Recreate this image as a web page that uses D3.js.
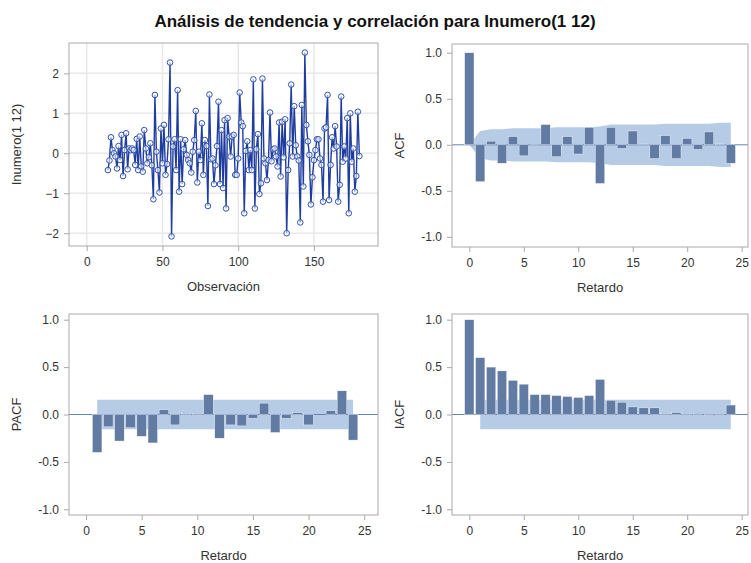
<!DOCTYPE html>
<html>
<head>
<meta charset="utf-8">
<script src="https://cdn.jsdelivr.net/npm/d3@7"></script>
<style>
  body { margin: 0; background: #fff; }
  text { font-family: "Liberation Sans", Arial, sans-serif; }
</style>
</head>
<body>
<div id="chart"></div>
<script>
// datos
const titulo = "Análisis de tendencia y correlación para Inumero(1 12)";
const etiquetaSerie = "Inumero(1 12)";
const obsInicio = 14;
const serie = [
  -0.42, -0.18, 0.40, 0.08, 0.00, -0.08, -0.38, 0.18, -0.17, 0.46,
  -0.57, 0.08, 0.50, -0.40, 0.12, 0.08, 0.12, 0.08, -0.29, 0.36,
  -0.42, 0.42, -0.33, -0.46, 0.58, 0.12, -0.25, -0.10, 0.25, -0.30,
  -1.15, 1.46, 0.04, -0.42, -0.98, 0.62, -0.25, 0.71, -0.54, -0.27,
  0.35, 2.27, -2.08, 0.17, 0.35, -0.42, 1.58, -0.96, 0.35, -0.77,
  0.10, 0.33, -0.04, -0.17, -0.25, -0.48, 0.04, 0.33, 1.06, -0.73,
  0.04, -0.17, 0.75, -0.54, 0.33, 0.18, -1.32, 1.47, -0.15, -0.13,
  -0.77, -0.30, 0.18, 1.29, -0.77, 0.58, -0.87, 0.83, -1.38, 0.88,
  0.42, -0.08, 0.42, 0.46, -0.54, -0.54, -0.13, 1.52, 0.77, 0.68,
  -1.50, 0.06, 0.30, -0.42, 0.08, -0.42, 1.85, -1.38, 0.10, 0.48,
  -1.02, -0.75, 1.87, -0.13, -0.25, -0.67, -0.17, 1.02, -0.20, 0.10,
  0.12, -0.08, -0.33, 0.77, -0.58, 0.79, -0.10, 0.85, -2.00, -0.42,
  0.25, 1.72, -0.08, 1.18, 0.20, -0.08, -0.18, -1.73, 1.21, -0.83,
  2.52, 0.71, 0.30, -0.04, -1.28, -0.60, -0.17, 0.08, 0.35, 0.35,
  -0.13, -0.29, -1.21, 0.62, 0.65, 1.46, -1.17, -0.29, 0.40, 0.12,
  0.68, 0.17, -1.21, -0.79, 1.42, -0.21, 0.17, -0.13, 0.88, -1.50,
  1.00, -0.21, 0.12, -0.96, -0.57, 1.04, -0.07
];

const retardos = d3.range(0, 25);
const acf = [1.00, -0.40, 0.04, -0.20, 0.09, -0.12, -0.01, 0.22, -0.13, 0.09,
  -0.10, 0.19, -0.42, 0.19, -0.04, 0.15, 0.01, -0.15, 0.10, -0.15,
  0.07, -0.05, 0.14, 0.01, -0.20];
const acfBanda = [0.00, 0.15, 0.17, 0.17, 0.18, 0.18, 0.18, 0.18, 0.19, 0.19,
  0.19, 0.19, 0.20, 0.22, 0.22, 0.22, 0.22, 0.22, 0.23, 0.23,
  0.23, 0.23, 0.23, 0.24, 0.24];
const retardosP = d3.range(1, 25);
const pacf = [-0.40, -0.13, -0.28, -0.14, -0.23, -0.30, 0.05, -0.11, 0.01, 0.01,
  0.21, -0.25, -0.11, -0.12, -0.04, 0.12, -0.19, -0.04, 0.02, -0.11,
  0.00, 0.04, 0.25, -0.27];
const iacf = [1.00, 0.60, 0.50, 0.46, 0.36, 0.32, 0.21, 0.21, 0.20, 0.19,
  0.18, 0.20, 0.37, 0.15, 0.13, 0.08, 0.07, 0.07, 0.01, 0.02,
  0.01, 0.01, -0.01, 0.01, 0.10];
const bandaPacf = 0.155;
const bandaIacf = 0.155;

const ticksCorr = [-1, -0.5, 0, 0.5, 1];
const ticksRet = [0, 5, 10, 15, 20, 25];
const ticksObs = [0, 50, 100, 150];
const ticksSerie = [-2, -1, 0, 1, 2];

const W = 751, H = 563;
const colorBarra = "#617ba3";
const colorBanda = "#b6cbe6";
const colorMarco = "#a9a9a9";
const colorTexto = "#333";

const svg = d3.select("#chart").append("svg").attr("width", W).attr("height", H);

svg.append("text")
  .attr("x", 375).attr("y", 27)
  .attr("text-anchor", "middle")
  .style("font-size", "17px").style("font-weight", "bold").style("fill", "#111")
  .text(titulo);

// marco + ejes comunes
function panel(box, xDom, yDom, xTicks, yTicks, yFmt, xLabel, yLabel, grid) {
  const x = d3.scaleLinear().domain(xDom).range([box.l, box.r]);
  const y = d3.scaleLinear().domain(yDom).range([box.b, box.t]);
  const g = svg.append("g");

  if (grid) {
    g.selectAll(".gx").data(xTicks).enter().append("line")
      .attr("x1", d => x(d)).attr("x2", d => x(d))
      .attr("y1", box.t).attr("y2", box.b)
      .attr("stroke", "#e8e8e8").attr("stroke-width", 1.5);
    g.selectAll(".gy").data(yTicks).enter().append("line")
      .attr("y1", d => y(d)).attr("y2", d => y(d))
      .attr("x1", box.l).attr("x2", box.r)
      .attr("stroke", "#e8e8e8").attr("stroke-width", 1.5);
  }

  const ax = g.append("g").attr("transform", `translate(0,${box.b})`)
    .call(d3.axisBottom(x).tickValues(xTicks).tickSize(5).tickPadding(6));
  const ay = g.append("g").attr("transform", `translate(${box.l},0)`)
    .call(d3.axisLeft(y).tickValues(yTicks).tickFormat(yFmt).tickSize(5).tickPadding(5));
  [ax, ay].forEach(a => {
    a.select(".domain").remove();
    a.selectAll("line").attr("stroke", colorMarco);
    a.selectAll("text").style("font-size", "12px").style("fill", colorTexto)
      .style("font-family", "'Liberation Sans', Arial, sans-serif");
  });

  g.append("text")
    .attr("x", (box.l + box.r) / 2).attr("y", box.b + 45)
    .attr("text-anchor", "middle")
    .style("font-size", "13px").style("fill", colorTexto)
    .text(xLabel);
  g.append("text")
    .attr("transform", `translate(${box.l - 48},${(box.t + box.b) / 2}) rotate(-90)`)
    .attr("text-anchor", "middle")
    .style("font-size", "13px").style("fill", colorTexto)
    .text(yLabel);

  const plot = svg.append("g");
  // frame drawn last
  const frame = () => svg.append("rect")
    .attr("x", box.l).attr("y", box.t)
    .attr("width", box.r - box.l).attr("height", box.b - box.t)
    .attr("fill", "none").attr("stroke", colorMarco).attr("stroke-width", 1);
  return { x, y, plot, frame };
}

const fmt1 = d3.format(".1f");
const fmtCorr = d => d < 0 ? "-" + fmt1(-d) : fmt1(d);

// 1. serie
{
  const box = { l: 69, r: 378, t: 43, b: 246 };
  const p = panel(box, [-11.7, 192.3], [-2.32, 2.76], ticksObs, ticksSerie, d3.format("d"), "Observación", etiquetaSerie, true);
  const datos = serie.map((v, i) => ({ o: obsInicio + i, v }));
  p.plot.append("path").datum(datos)
    .attr("fill", "none").attr("stroke", "#1f3d9e").attr("stroke-width", 1.4)
    .attr("d", d3.line().x(d => p.x(d.o)).y(d => p.y(d.v)));
  p.plot.selectAll("circle").data(datos).enter().append("circle")
    .attr("cx", d => p.x(d.o)).attr("cy", d => p.y(d.v)).attr("r", 2.8)
    .attr("fill", "#fff").attr("fill-opacity", 0.55)
    .attr("stroke", "#2f52b0").attr("stroke-width", 1);
  p.frame();
}

function barras(p, lags, vals, ancho) {
  const w = p.x(ancho) - p.x(0);
  p.plot.selectAll(".bar").data(vals).enter().append("rect")
    .attr("x", (d, i) => p.x(lags[i]) - w / 2)
    .attr("y", d => p.y(Math.max(0, d)))
    .attr("width", w)
    .attr("height", d => Math.abs(p.y(d) - p.y(0)))
    .attr("fill", colorBarra)
    .attr("stroke", "#fff").attr("stroke-width", 0.4);
}

function lineaCero(p, box) {
  p.plot.append("line")
    .attr("x1", box.l).attr("x2", box.r)
    .attr("y1", p.y(0)).attr("y2", p.y(0))
    .attr("stroke", "#6683b6").attr("stroke-width", 1);
}

// 2. ACF
{
  const box = { l: 452, r: 748, t: 44, b: 247 };
  const p = panel(box, [-1.59, 25.58], [-1.11, 1.095], ticksRet, ticksCorr, fmtCorr, "Retardo", "ACF", false);
  p.plot.append("path").datum(retardos)
    .attr("fill", colorBanda)
    .attr("d", d3.area().x(d => p.x(d)).y0((d, i) => p.y(-acfBanda[i])).y1((d, i) => p.y(acfBanda[i])));
  lineaCero(p, box);
  barras(p, retardos, acf, 0.86);
  p.frame();
}

// 3. PACF
{
  const box = { l: 69, r: 378, t: 314, b: 515 };
  const p = panel(box, [-1.53, 26.24], [-1.06, 1.06], ticksRet, ticksCorr, fmtCorr, "Retardo", "PACF", false);
  p.plot.append("path").datum(retardosP)
    .attr("fill", colorBanda)
    .attr("d", d3.area().x(d => p.x(d)).y0(p.y(-bandaPacf)).y1(p.y(bandaPacf)));
  lineaCero(p, box);
  barras(p, retardosP, pacf, 0.86);
  p.frame();
}

// 4. IACF
{
  const box = { l: 452, r: 748, t: 314, b: 515 };
  const p = panel(box, [-1.59, 25.58], [-1.06, 1.06], ticksRet, ticksCorr, fmtCorr, "Retardo", "IACF", false);
  p.plot.append("path").datum(retardosP)
    .attr("fill", colorBanda)
    .attr("d", d3.area().x(d => p.x(d)).y0(p.y(-bandaIacf)).y1(p.y(bandaIacf)));
  lineaCero(p, box);
  barras(p, retardos, iacf, 0.86);
  p.frame();
}
</script>
</body>
</html>
